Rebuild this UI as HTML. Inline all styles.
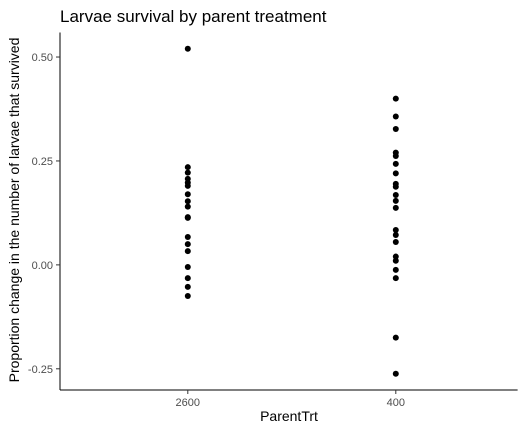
<!DOCTYPE html>
<html><head><meta charset="utf-8"><style>
body{margin:0;background:#fff;font-family:"Liberation Sans",Arial,sans-serif}
</style></head><body>
<svg id="c" width="528" height="435" xmlns="http://www.w3.org/2000/svg">
<rect width="528" height="435" fill="#fff"/>
<text x="60" y="22" font-size="17" fill="#000">Larvae survival by parent treatment</text>
<g id="axes"></g>
<g id="pts"></g>
<text x="289" y="421" font-size="14" text-anchor="middle" fill="#000">ParentTrt</text>
<text transform="translate(19,210) rotate(-90)" font-size="14" text-anchor="middle" fill="#000">Proportion change in the number of larvae that survived</text>
</svg>
<script>
const categories = ["2600","400"];
const yTicks = [-0.25, 0, 0.25, 0.5];
const yTickLabels = ["-0.25","0.00","0.25","0.50"];
const values2600 = [0.52,0.235,0.222,0.207,0.198,0.19,0.17,0.153,0.14,0.115,0.113,0.067,0.05,0.033,-0.005,-0.032,-0.053,-0.075];
const values400 = [0.40,0.357,0.327,0.27,0.262,0.243,0.22,0.195,0.188,0.168,0.154,0.137,0.084,0.072,0.055,0.02,0.01,-0.012,-0.032,-0.175,-0.262];
const series = [values2600, values400];
const L=60, R=517.6, T=32.5, B=390;
const yMin=-0.301, yMax=0.559;
const y = v => B - (v - yMin)/(yMax - yMin)*(B - T);
const x = i => L + (i + 1 - 0.4)/2.2*(R - L) + 3;
const NS="http://www.w3.org/2000/svg";
function mk(tag, attrs, parent){const e=document.createElementNS(NS,tag);for(const k in attrs)e.setAttribute(k,attrs[k]);parent.appendChild(e);return e;}
const ax=document.getElementById('axes'), pts=document.getElementById('pts');
let e=mk('line',{x1:L,y1:T,x2:L,y2:B,stroke:'#000','stroke-width':1},ax);


e=mk('line',{x1:L,y1:B,x2:R,y2:B,stroke:'#000','stroke-width':1},ax);


yTicks.forEach((t,i)=>{
  const tk=mk('line',{x1:L-4,y1:y(t),x2:L,y2:y(t),stroke:'#333'},ax);
  
  
  const tl=mk('text',{x:L-7,y:y(t)+4,'font-size':11,'text-anchor':'end',fill:'#4d4d4d'},ax);
  tl.textContent=yTickLabels[i];
  
  
});
categories.forEach((c,i)=>{
  const tk=mk('line',{x1:x(i),y1:B,x2:x(i),y2:B+4,stroke:'#333'},ax);
  
  
  const tl=mk('text',{x:x(i),y:B+16,'font-size':11,'text-anchor':'middle',fill:'#4d4d4d'},ax);
  tl.textContent=c;
  
  
  series[i].forEach(v=>{
    const p=mk('circle',{cx:x(i),cy:y(v),r:3,fill:'#000'},pts);
    
    
  });
});
</script>
</body></html>
